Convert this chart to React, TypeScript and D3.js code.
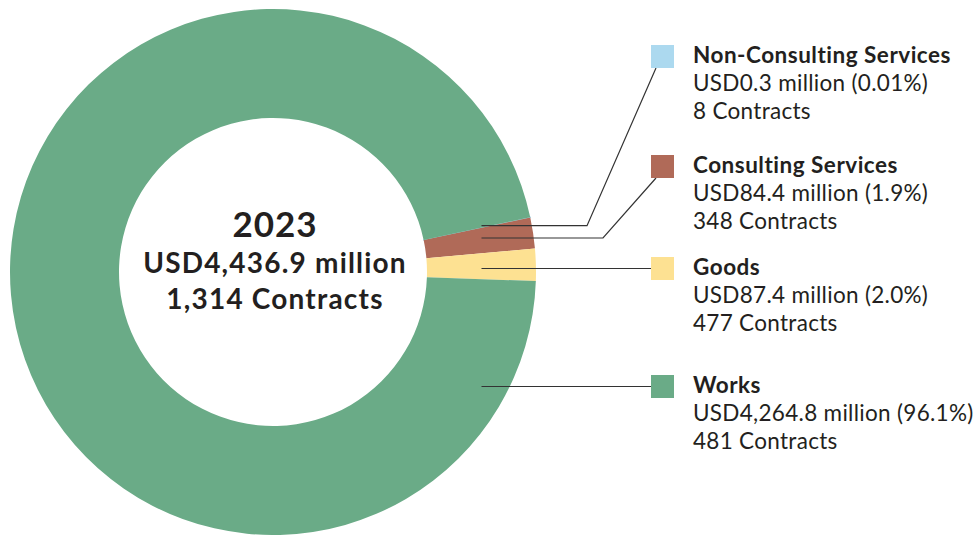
import React from "react";
import * as d3 from "d3";

// categories in drawing order (clockwise from the small slices)
const categories = ["Non-Consulting Services", "Consulting Services", "Goods", "Works"];
const amounts = [0.3, 84.4, 87.4, 4264.8]; // USD million
const amountLabels = ["USD0.3 million (0.01%)", "USD84.4 million (1.9%)", "USD87.4 million (2.0%)", "USD4,264.8 million (96.1%)"];
const contracts = ["8 Contracts", "348 Contracts", "477 Contracts", "481 Contracts"];
const colors = ["#acd9ef", "#b06a58", "#fde192", "#6aab87"];
const centreLines = ["2023", "USD4,436.9 million", "1,314 Contracts"];

interface Slice {
  name: string;
  value: number;
  idx: number;
}

const W = 979, H = 535;
const cx = 273, cy = 272;
const outerR = 263, innerR = 154;
const legendX = 651, sq = 23, textX = 693;
const legendTops = [45, 155, 257, 375];
const elbowX = [587, 603];
const font = "Lato, 'Open Sans', sans-serif";
const ink = "#231f20";

const App: React.FC = () => {
  const rows: Slice[] = categories.map((c, i) => ({ name: c, value: amounts[i], idx: i }));
  const start = (78 * Math.PI) / 180;
  const pie = d3.pie<Slice>()
    .value(d => d.value)
    .sort(null)
    .startAngle(start)
    .endAngle(start + 2 * Math.PI);
  const arcs = pie(rows);
  const arc = d3.arc<d3.PieArcDatum<Slice>>().innerRadius(innerR).outerRadius(outerR);
  const midR = (innerR + outerR) / 2;
  const anchorX = cx + midR;

  const leaders = arcs.map((a, i) => {
    const top = legendTops[i];
    if (i < 2) {
      // elbow lines for the two thin slices
      const ang = i === 0 ? a.startAngle : (a.startAngle + a.endAngle) / 2;
      const y0 = cy - midR * Math.cos(ang) - 3;
      return `M${anchorX},${y0}H${elbowX[i]}L${legendX + 5},${top + sq}`;
    }
    const yc = top + sq / 2;
    return `M${anchorX},${yc}H${legendX}`;
  });

  return (
    <svg width={W} height={H} style={{ position: "absolute", left: 0, top: 0, background: "#fff" }}>
      <g transform={`translate(${cx},${cy})`}>
        {arcs.map((a, i) => (
          <path
            key={i}
            d={arc(a) || ""}
            fill={colors[i]}
            stroke={i === 0 ? colors[0] : "none"}
            strokeWidth={i === 0 ? 1.2 : 0}
          />
        ))}
      </g>
      {leaders.map((d, i) => (
        <path key={i} d={d} fill="none" stroke="#333" strokeWidth={1.2} />
      ))}
      <g fontFamily={font} fill={ink} fontWeight={700} textAnchor="middle">
        <text x={cx + 2} y={237} fontSize={35} letterSpacing={1}>{centreLines[0]}</text>
        <text x={cx + 2} y={273} fontSize={28} letterSpacing={1.2}>{centreLines[1]}</text>
        <text x={cx + 2} y={309} fontSize={28} letterSpacing={1.2}>{centreLines[2]}</text>
      </g>
      <g fontFamily={font} fill={ink}>
        {categories.map((c, i) => {
          const top = legendTops[i];
          return (
            <g key={c}>
              <rect x={legendX} y={top} width={sq} height={sq} fill={colors[i]} />
              <text x={textX} y={top + 18} fontSize={22.5} fontWeight={700} letterSpacing={0.5}>{c}</text>
              <text x={textX} y={top + 46} fontSize={22.5} letterSpacing={0.3}>{amountLabels[i]}</text>
              <text x={textX} y={top + 74} fontSize={22.5} letterSpacing={0.3}>{contracts[i]}</text>
            </g>
          );
        })}
      </g>
    </svg>
  );
};

export default App;
